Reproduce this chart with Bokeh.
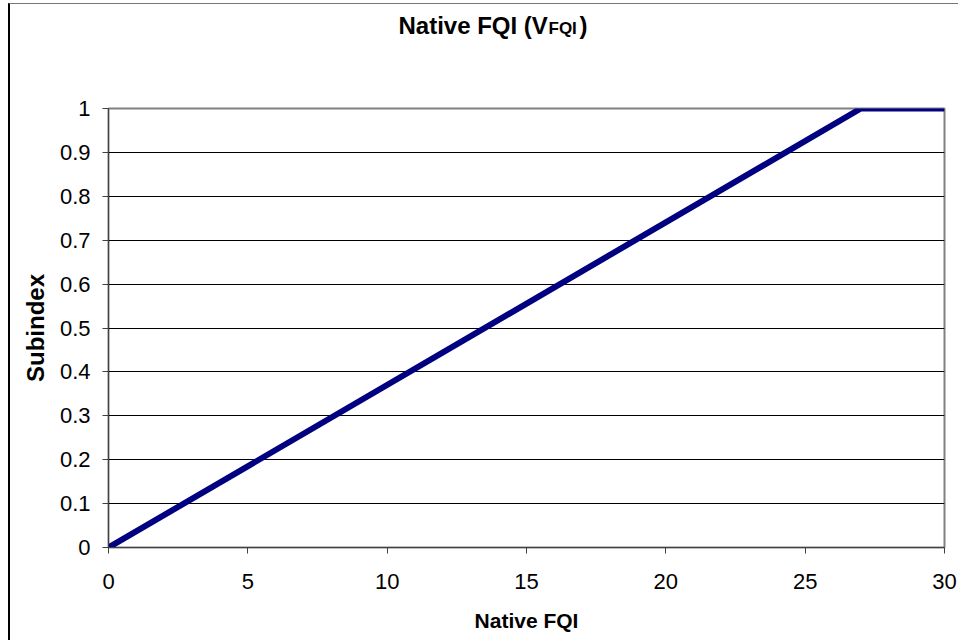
from bokeh.plotting import figure
from bokeh.layouts import column
from bokeh.models import Range1d, FixedTicker, Label
from bokeh.embed import file_html
from bokeh.resources import INLINE

# Data
fqi = [0, 27, 30]
subindex = [0, 1, 1]
x_ticks = [0, 5, 10, 15, 20, 25, 30]
x_tick_labels = ["0", "5", "10", "15", "20", "25", "30"]
y_ticks = [0, 0.1, 0.2, 0.3, 0.4, 0.5, 0.6, 0.7, 0.8, 0.9, 1.0]
y_tick_labels = ["0", "0.1", "0.2", "0.3", "0.4", "0.5", "0.6", "0.7", "0.8", "0.9", "1"]
title_main = "Native FQI (V"
title_sub = "FQI"
title_end = ")"
x_label = "Native FQI"
y_label = "Subindex"

FONT = "Liberation Sans"
W = 948

# Title strip (its own small SVG figure so the subscript can sit beside the text)
t = figure(width=W, height=60, output_backend="svg", toolbar_location=None,
           x_axis_type=None, y_axis_type=None, min_border=0,
           x_range=Range1d(0, W), y_range=Range1d(0, 60))
t.outline_line_color = None
lab = dict(x_units="screen", y_units="screen", text_font=FONT, text_font_style="bold",
           text_align="left", text_baseline="alphabetic", text_color="black")
t.add_layout(Label(x=290, y=39, text=title_main, text_font_size="24px", **lab))
t.add_layout(Label(x=440, y=36, text=title_sub, text_font_size="17px", **lab))
t.add_layout(Label(x=471, y=39, text=title_end, text_font_size="24px", **lab))

# Main chart
p = figure(width=W, height=576, output_backend="svg", toolbar_location=None,
           x_range=Range1d(0, 30), y_range=Range1d(0, 1),
           min_border_left=98, min_border_right=14, min_border_top=44, min_border_bottom=93)

p.line(fqi, subindex, line_color="#000080", line_width=6, line_join="miter", line_cap="butt")

p.outline_line_color = "#808080"
p.outline_line_width = 2
p.xgrid.grid_line_color = None
p.ygrid.grid_line_color = "black"
p.ygrid.grid_line_width = 1

p.xaxis.ticker = FixedTicker(ticks=x_ticks)
p.yaxis.ticker = FixedTicker(ticks=y_ticks)
p.xaxis.major_label_overrides = {t_: l for t_, l in zip(x_ticks, x_tick_labels)}
p.yaxis.major_label_overrides = {t_: l for t_, l in zip(y_ticks, y_tick_labels)}

for ax in (p.xaxis, p.yaxis):
    ax.axis_line_color = "#404040"
    ax.axis_line_width = 1
    ax.major_tick_line_color = "#404040"
    ax.major_tick_in = 0
    ax.major_tick_out = 6
    ax.minor_tick_line_color = None
    ax.major_label_text_font = FONT
    ax.major_label_text_font_size = "22px"
    ax.major_label_text_color = "black"
    ax.axis_label_text_font = FONT
    ax.axis_label_text_font_size = "21px"
    ax.axis_label_text_font_style = "bold"
    ax.axis_label_text_color = "black"

p.yaxis.axis_label_text_font_size = "24px"
p.xaxis.axis_label = x_label
p.yaxis.axis_label = y_label
p.xaxis.major_label_standoff = 20
p.yaxis.major_label_standoff = 12
p.xaxis.axis_label_standoff = 17
p.yaxis.axis_label_standoff = 8

layout = column(t, p, spacing=0)
layout.styles = {"margin-left": "8px", "margin-top": "3px",
                 "border-left": "2px solid black", "border-top": "1px solid #777777"}

open("out.html", "w").write(file_html(layout, INLINE))
